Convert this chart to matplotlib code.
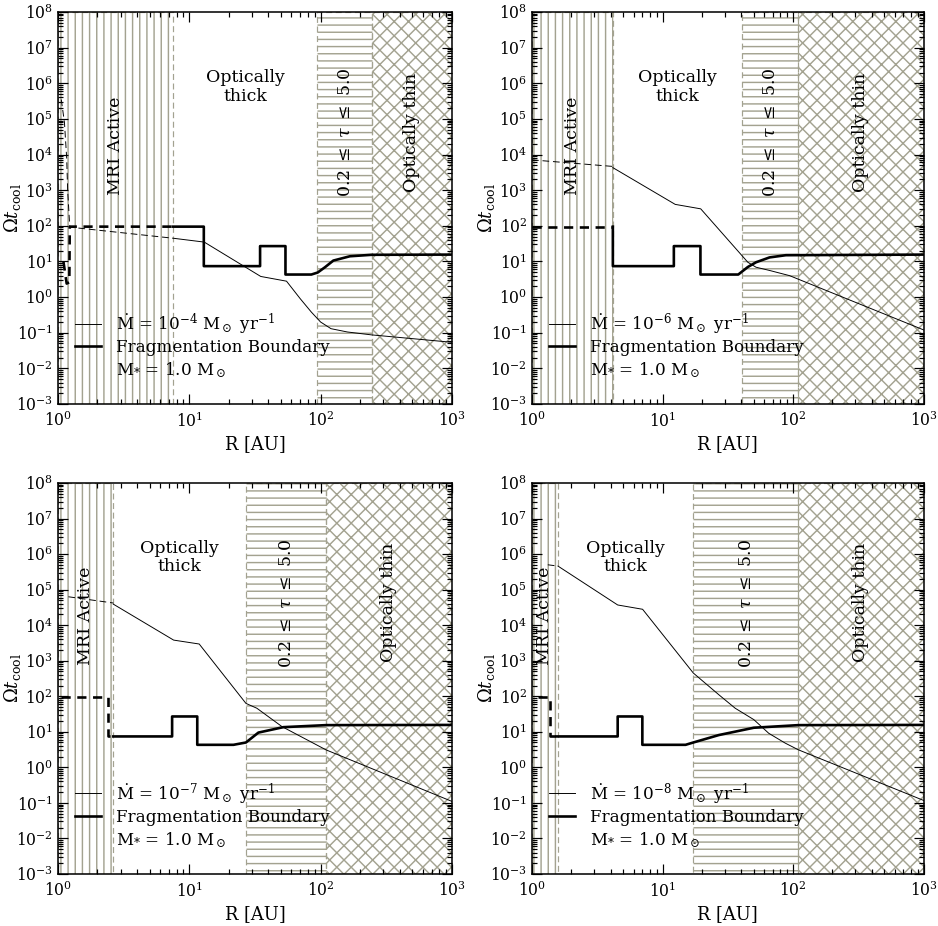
import numpy as np
import matplotlib.pyplot as plt
from matplotlib.lines import Line2D
from matplotlib.ticker import LogLocator, NullFormatter

# Cooling-time curves and fragmentation boundaries for four accretion rates

mdot_exp = [-4, -6, -7, -8]

# region edges [AU]
r_mri = [7.5, 4.16, 2.64, 1.58]
r_tau_in = [94.5, 40.5, 27.0, 17.2]
r_tau_out = [245.0, 109.0, 109.0, 109.0]

# Omega t_cool, dashed part inside the MRI active zone
cool1_mri_r = [1.06, 1.12, 1.165, 1.185, 1.23, 7.5]
cool1_mri_v = [3.5e5, 8e4, 8e3, 1e3, 92, 45]
cool2_mri_r = [1.0, 4.16]
cool2_mri_v = [7100, 4650]
cool3_mri_r = [1.2, 2.64]
cool3_mri_v = [63000, 42000]
cool4_mri_r = [1.32, 1.58]
cool4_mri_v = [5.0e5, 4.6e5]

# Omega t_cool, solid part
cool1_r = [7.5, 13, 35, 55, 70, 85, 100, 120, 160, 245, 1000]
cool1_v = [45, 35, 3.8, 2.8, 0.9, 0.38, 0.2, 0.13, 0.105, 0.087, 0.054]
cool2_r = [4.16, 12.5, 19.6, 45, 52, 66, 94, 1000]
cool2_v = [4300, 400, 300, 9.5, 6.9, 5.6, 4.0, 0.12]
cool3_r = [2.64, 7.6, 11.9, 27, 32.7, 50.8, 110, 1000]
cool3_v = [39000, 3800, 2950, 63, 46, 14, 3.1, 0.11]
cool4_r = [1.58, 4.53, 7.03, 17.2, 27, 36, 50, 65, 87, 110, 1000]
cool4_v = [4.6e5, 37000, 28000, 450, 110, 46, 22, 9.1, 4.8, 3.1, 0.117]

# fragmentation boundary, dashed part inside the MRI active zone
frag1_mri_r = [1.10, 1.165, 1.22, 1.23, 7.5]
frag1_mri_v = [10, 2.4, 2.6, 95, 95]
frag2_mri_r = [1.0, 4.16]
frag2_mri_v = [95, 95]
frag3_mri_r = [1.05, 2.41, 2.41, 2.64]
frag3_mri_v = [95, 95, 7.4, 7.4]
frag4_mri_r = [1.11, 1.38, 1.38, 1.55]
frag4_mri_v = [95, 95, 7.4, 7.4]

# fragmentation boundary, solid part
frag1_r = [7.5, 12.9, 12.9, 34.6, 34.6, 54, 54, 85, 95, 108, 125, 167, 245, 1000]
frag1_v = [95, 95, 7.4, 7.4, 27, 27, 4.3, 4.3, 4.9, 6.9, 10.6, 14, 15.4, 15.6]
frag2_r = [4.16, 4.16, 12.2, 12.2, 19.5, 19.5, 38, 45, 52, 66, 88, 1000]
frag2_v = [95, 7.4, 7.4, 27, 27, 4.3, 4.3, 7.0, 9.5, 13, 15, 15.6]
frag3_r = [2.64, 7.4, 7.4, 11.5, 11.5, 21.7, 27, 33.6, 52, 110, 1000]
frag3_v = [7.4, 7.4, 27, 27, 4.3, 4.3, 5.0, 9.5, 13.5, 15.4, 15.6]
frag4_r = [1.55, 4.53, 4.53, 7.0, 7.0, 15, 17.2, 27, 50, 110, 1000]
frag4_v = [7.4, 7.4, 27, 27, 4.3, 4.3, 5.0, 8.1, 13, 15.4, 15.6]

cool_mri = [(cool1_mri_r, cool1_mri_v), (cool2_mri_r, cool2_mri_v),
            (cool3_mri_r, cool3_mri_v), (cool4_mri_r, cool4_mri_v)]
cool = [(cool1_r, cool1_v), (cool2_r, cool2_v), (cool3_r, cool3_v), (cool4_r, cool4_v)]
frag_mri = [(frag1_mri_r, frag1_mri_v), (frag2_mri_r, frag2_mri_v),
            (frag3_mri_r, frag3_mri_v), (frag4_mri_r, frag4_mri_v)]
frag = [(frag1_r, frag1_v), (frag2_r, frag2_v), (frag3_r, frag3_v), (frag4_r, frag4_v)]

plt.rcParams['font.family'] = 'DejaVu Serif'
plt.rcParams['mathtext.fontset'] = 'dejavuserif'
plt.rcParams['hatch.linewidth'] = 1.2

DPI = 86
fig = plt.figure(figsize=(938 / DPI, 926 / DPI), dpi=DPI)

hcol = '#a3a290'
axes_pos = [[0.0618, 0.5637, 0.42, 0.4233], [0.5672, 0.5637, 0.4175, 0.4233],
            [0.0618, 0.0562, 0.42, 0.4222], [0.5672, 0.0562, 0.4175, 0.4222]]

for i in range(4):
    ax = fig.add_axes(axes_pos[i])
    ax.set_xscale('log')
    ax.set_yscale('log')
    ax.set_xlim(1, 1000)
    ax.set_ylim(1e-3, 1e8)

    # shaded regions
    ax.axvspan(1, r_mri[i], facecolor='none', edgecolor=hcol, hatch='||',
               ls=(0, (5, 3)), lw=1.0, zorder=0)
    ax.axvspan(r_tau_in[i], r_tau_out[i], facecolor='none', edgecolor=hcol,
               hatch='--', ls=(0, (5, 3)), lw=1.0, zorder=0)
    ax.axvspan(r_tau_out[i], 1000, facecolor='none', edgecolor=hcol,
               hatch='xx', ls=(0, (5, 3)), lw=1.0, zorder=0)

    # curves
    ax.plot(*cool_mri[i], color='k', lw=0.8, ls=(0, (7, 4)), zorder=3)
    ax.plot(*cool[i], color='k', lw=0.8, zorder=3)
    ax.plot(*frag_mri[i], color='k', lw=2.2, ls=(0, (3.5, 2.5)), zorder=3)
    ax.plot(*frag[i], color='k', lw=2.2, zorder=3)

    # region labels
    tfs = 14.5
    ax.text(np.sqrt(1 * r_mri[i]), 10 ** 4.25, 'MRI Active', rotation=90,
            ha='center', va='center', fontsize=tfs)
    ax.text(np.sqrt(r_mri[i] * r_tau_in[i]), 10 ** 5.9, 'Optically\nthick',
            ha='center', va='center', fontsize=tfs, linespacing=1.1)
    ax.text(np.sqrt(r_tau_in[i] * r_tau_out[i]), 10 ** 4.63,
            r'0.2 $\leq$ $\tau$ $\leq$ 5.0', rotation=90,
            ha='center', va='center', fontsize=tfs)
    ax.text(np.sqrt(r_tau_out[i] * 1000), 10 ** 4.63, 'Optically thin',
            rotation=90, ha='center', va='center', fontsize=tfs)

    # legend
    handles = [Line2D([], [], color='k', lw=0.8),
               Line2D([], [], color='k', lw=2.2),
               Line2D([], [], color='none')]
    labels = [r'$\dot{\rm M}$ = 10$^{%d}$ M$_\odot$ yr$^{-1}$' % mdot_exp[i],
              'Fragmentation Boundary',
              r'M$_{*}$ = 1.0 M$_\odot$']
    ax.legend(handles, labels, loc='lower left', frameon=False, fontsize=14,
              handlelength=1.6, handletextpad=0.9, labelspacing=0.22,
              borderaxespad=0.0, bbox_to_anchor=(0.025, 0.045))

    ax.xaxis.set_major_locator(LogLocator(base=10, numticks=10))
    ax.xaxis.set_minor_locator(LogLocator(base=10, subs=np.arange(2, 10), numticks=10))
    ax.yaxis.set_major_locator(LogLocator(base=10, numticks=20))
    ax.yaxis.set_minor_locator(LogLocator(base=10, subs=np.arange(2, 10), numticks=20))
    ax.xaxis.set_minor_formatter(NullFormatter())
    ax.yaxis.set_minor_formatter(NullFormatter())
    ax.tick_params(which='both', direction='in', top=True, right=True,
                   labelsize=13, width=1.0)
    ax.tick_params(which='major', length=8.5)
    ax.tick_params(which='minor', length=4)
    ax.tick_params(axis='x', pad=6)
    ax.tick_params(axis='y', pad=4)
    for s in ax.spines.values():
        s.set_linewidth(1.3)

    ax.set_xlabel('R [AU]', fontsize=15, labelpad=4)
    ax.set_ylabel(r'$\Omega t_{\rm cool}$', fontsize=15, labelpad=-6)

fig.savefig('out.png', dpi=DPI)
